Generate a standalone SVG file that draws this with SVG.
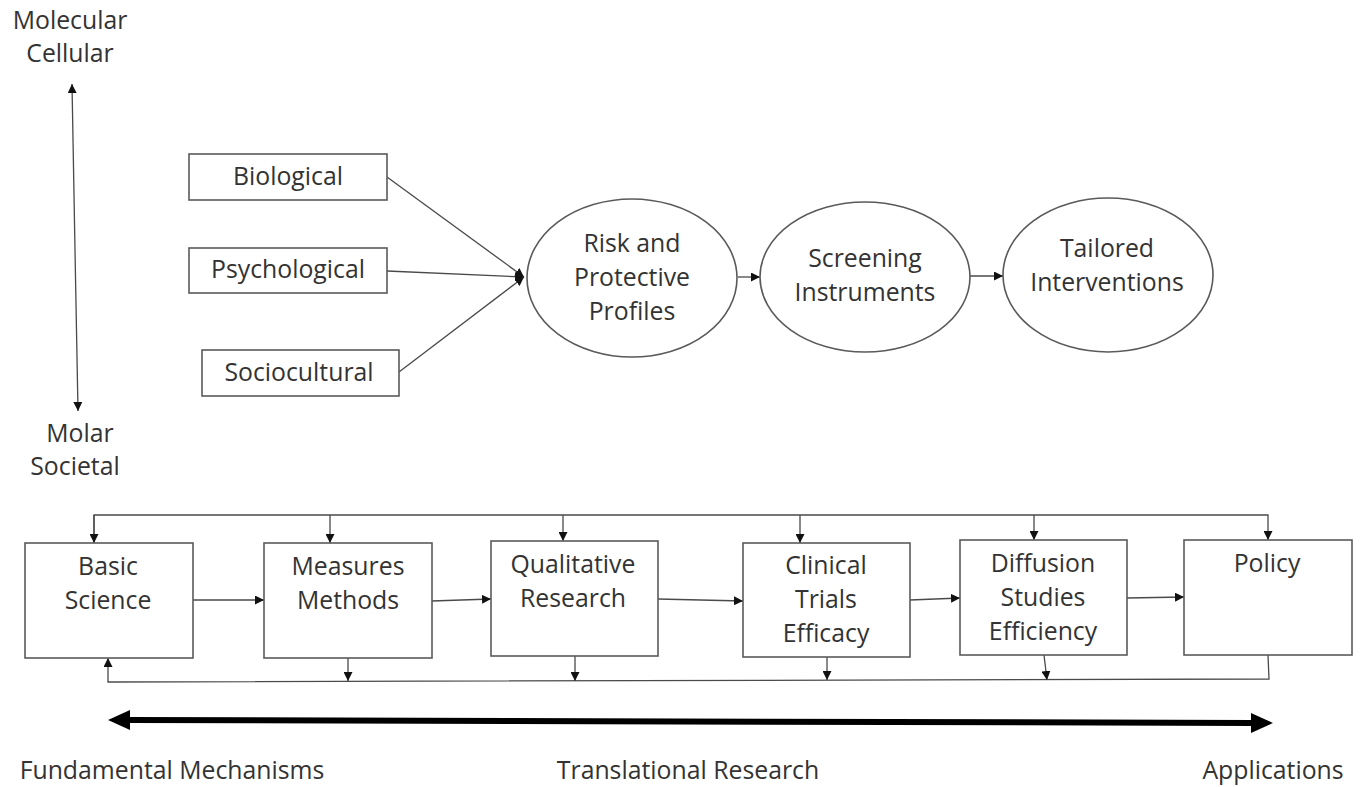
<svg xmlns="http://www.w3.org/2000/svg" width="1363" height="787" viewBox="0 0 1363 787">
<style>
  .t { font-family: "Open Sans", "Noto Sans", sans-serif; font-size: 24.8px; fill: #333333; text-anchor: middle; }
  .box { fill: #ffffff; stroke: #5a5a5a; stroke-width: 1.6; }
  .ell { fill: #ffffff; stroke: #5a5a5a; stroke-width: 1.6; }
  .ln { fill: none; stroke: #4a4a4a; stroke-width: 1.3; }
  .big { fill: none; stroke: #000000; stroke-width: 6; }
</style>
<defs>
  <marker id="ah" viewBox="0 0 10 10" refX="10" refY="5" markerWidth="9" markerHeight="9" markerUnits="userSpaceOnUse" orient="auto">
    <path d="M0,0 L10,5 L0,10 Z" fill="#111"/>
  </marker>
</defs>
<rect width="1363" height="787" fill="#ffffff"/>

<g id="axis-labels">
  <text class="t" x="70" y="29">Molecular</text>
  <text class="t" x="70" y="62">Cellular</text>
  <text class="t" x="80" y="442">Molar</text>
  <text class="t" x="75" y="475">Societal</text>
  <text class="t" x="172" y="779">Fundamental Mechanisms</text>
  <text class="t" x="688" y="779">Translational Research</text>
  <text class="t" x="1273" y="779">Applications</text>
</g>

<g id="connectors">
  <line class="ln" x1="75" y1="250" x2="72" y2="84" marker-end="url(#ah)"/>
  <line class="ln" x1="75" y1="250" x2="78" y2="411" marker-end="url(#ah)"/>
  <line class="ln" x1="387" y1="177" x2="524" y2="277" marker-end="url(#ah)"/>
  <line class="ln" x1="387" y1="271" x2="524" y2="277" marker-end="url(#ah)"/>
  <line class="ln" x1="399" y1="372" x2="524" y2="277" marker-end="url(#ah)"/>
  <line class="ln" x1="738" y1="277" x2="760" y2="277" marker-end="url(#ah)"/>
  <line class="ln" x1="970" y1="276" x2="1003" y2="276" marker-end="url(#ah)"/>

  <polyline class="ln" points="94,543 94,515 1268,515 1268,540" marker-end="url(#ah)"/>
  <line class="ln" x1="330" y1="515" x2="330" y2="543" marker-end="url(#ah)"/>
  <line class="ln" x1="563" y1="515" x2="563" y2="541" marker-end="url(#ah)"/>
  <line class="ln" x1="800" y1="515" x2="800" y2="543" marker-end="url(#ah)"/>
  <line class="ln" x1="1034" y1="515" x2="1034" y2="540" marker-end="url(#ah)"/>
  <line class="ln" x1="94" y1="515" x2="94" y2="543" marker-end="url(#ah)"/>

  <line class="ln" x1="193" y1="600" x2="264" y2="600" marker-end="url(#ah)"/>
  <line class="ln" x1="432" y1="601" x2="491" y2="599" marker-end="url(#ah)"/>
  <line class="ln" x1="658" y1="599" x2="743" y2="601" marker-end="url(#ah)"/>
  <line class="ln" x1="910" y1="600" x2="960" y2="598" marker-end="url(#ah)"/>
  <line class="ln" x1="1127" y1="598" x2="1184" y2="597" marker-end="url(#ah)"/>

  <polyline class="ln" points="1268,655 1269,679 108,682 108,658" marker-end="url(#ah)"/>
  <line class="ln" x1="348" y1="658" x2="348" y2="681" marker-end="url(#ah)"/>
  <line class="ln" x1="575" y1="656" x2="575" y2="681" marker-end="url(#ah)"/>
  <line class="ln" x1="827" y1="657" x2="827" y2="680" marker-end="url(#ah)"/>
  <line class="ln" x1="1044" y1="655" x2="1047" y2="680" marker-end="url(#ah)"/>

  <line class="big" x1="128" y1="720" x2="1253" y2="723"/>
  <path d="M108,720 L130,710 L130,730 Z" fill="#000"/>
  <path d="M1273,723 L1251,713 L1251,733 Z" fill="#000"/>
</g>

<g id="biological">
  <rect class="box" x="189" y="154" width="198" height="46"/>
  <text class="t" x="288" y="185">Biological</text>
</g>
<g id="psychological">
  <rect class="box" x="189" y="248" width="198" height="45"/>
  <text class="t" x="288" y="278">Psychological</text>
</g>
<g id="sociocultural">
  <rect class="box" x="202" y="350" width="197" height="46"/>
  <text class="t" x="299" y="381">Sociocultural</text>
</g>

<g id="risk-profiles">
  <ellipse class="ell" cx="632" cy="278" rx="105" ry="79"/>
  <text class="t" x="632" y="252">Risk and</text>
  <text class="t" x="632" y="286">Protective</text>
  <text class="t" x="632" y="320">Profiles</text>
</g>
<g id="screening">
  <ellipse class="ell" cx="865" cy="277" rx="105" ry="75"/>
  <text class="t" x="865" y="267">Screening</text>
  <text class="t" x="865" y="301">Instruments</text>
</g>
<g id="tailored">
  <ellipse class="ell" cx="1108" cy="275" rx="105" ry="77"/>
  <text class="t" x="1107" y="257">Tailored</text>
  <text class="t" x="1107" y="291">Interventions</text>
</g>

<g id="basic-science">
  <rect class="box" x="25" y="543" width="168" height="115"/>
  <text class="t" x="108" y="575">Basic</text>
  <text class="t" x="108" y="609">Science</text>
</g>
<g id="measures-methods">
  <rect class="box" x="264" y="543" width="168" height="115"/>
  <text class="t" x="348" y="575">Measures</text>
  <text class="t" x="348" y="609">Methods</text>
</g>
<g id="qualitative-research">
  <rect class="box" x="491" y="541" width="167" height="115"/>
  <text class="t" x="573" y="573">Qualitative</text>
  <text class="t" x="573" y="607">Research</text>
</g>
<g id="clinical-trials">
  <rect class="box" x="743" y="543" width="167" height="114"/>
  <text class="t" x="826" y="574">Clinical</text>
  <text class="t" x="826" y="608">Trials</text>
  <text class="t" x="826" y="642">Efficacy</text>
</g>
<g id="diffusion-studies">
  <rect class="box" x="960" y="540" width="167" height="115"/>
  <text class="t" x="1043" y="572">Diffusion</text>
  <text class="t" x="1043" y="606">Studies</text>
  <text class="t" x="1043" y="640">Efficiency</text>
</g>
<g id="policy">
  <rect class="box" x="1184" y="540" width="168" height="115"/>
  <text class="t" x="1267" y="572">Policy</text>
</g>
</svg>
